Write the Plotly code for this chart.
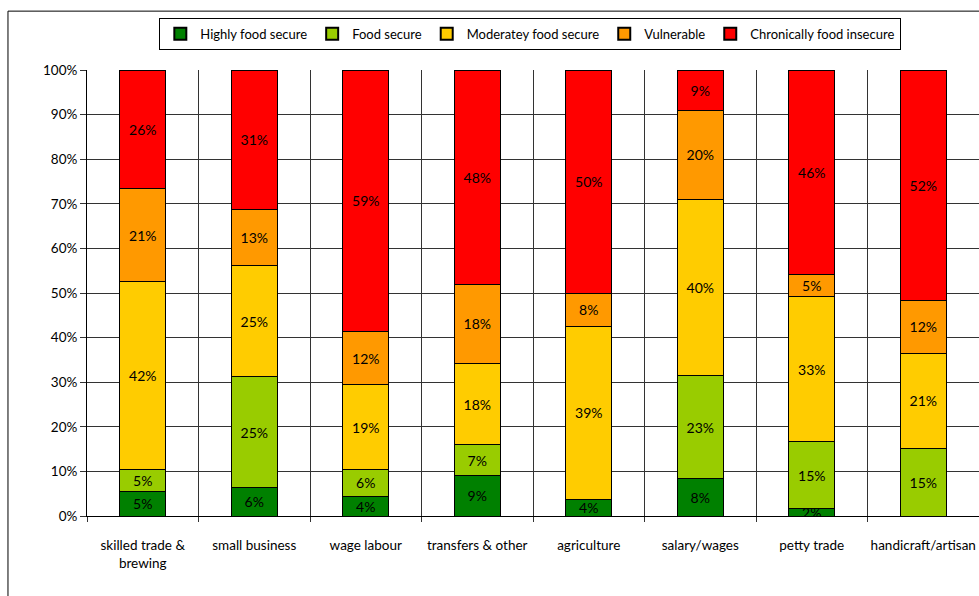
import plotly.graph_objects as go

# Livelihood groups (x-axis categories)
categories = [
    "skilled trade &<br>brewing",
    "small business",
    "wage labour",
    "transfers & other",
    "agriculture",
    "salary/wages",
    "petty trade",
    "handicraft/artisan",
]

# Share of households (%) in each food-security class per livelihood group
highly_food_secure = [5.4, 6.3, 4.4, 9.0, 3.8, 8.3, 1.6, 0.0]
food_secure = [5.1, 24.9, 6.1, 7.1, 0.0, 23.1, 15.0, 15.2]
moderately_food_secure = [42.0, 24.9, 18.9, 18.0, 38.6, 39.6, 32.6, 21.3]
vulnerable = [21.0, 12.6, 11.9, 17.9, 7.6, 19.9, 4.9, 11.9]
chronically_insecure = [26.5, 31.3, 58.7, 48.0, 50.0, 9.1, 45.9, 51.6]

series_names = [
    "Highly food secure",
    "Food secure",
    "Moderatey food secure",
    "Vulnerable",
    "Chronically food insecure",
]
series_values = [
    highly_food_secure,
    food_secure,
    moderately_food_secure,
    vulnerable,
    chronically_insecure,
]
series_colors = ["#008000", "#99CC00", "#FFCC00", "#FF9900", "#FF0000"]

y_ticks = list(range(0, 101, 10))
y_tick_labels = [f"{v}%" for v in y_ticks]

FONT = "Lato, 'Open Sans', sans-serif"

fig = go.Figure()
for name, vals, color in zip(series_names, series_values, series_colors):
    fig.add_trace(
        go.Bar(
            name=name,
            x=categories,
            y=vals,
            marker=dict(color=color, line=dict(color="#000000", width=1)),
            text=[f"{v:.0f}%" if v > 0 else "" for v in vals],
            textposition="inside",
            insidetextanchor="middle",
            textfont=dict(color="#000000", size=14, family=FONT),
            hoverinfo="skip",
        )
    )

# Outer chart frame (left and top edges)
fig.add_shape(
    type="rect", xref="paper", yref="paper",
    x0=-0.0886, x1=1.2, y0=-0.4, y1=1.132,
    line=dict(color="#000000", width=1), fillcolor="rgba(0,0,0,0)",
    layer="below",
)

fig.update_layout(
    width=979,
    height=596,
    margin=dict(l=87, r=0, t=70, b=80, autoexpand=False),
    barmode="stack",
    bargap=0.59,
    plot_bgcolor="#FFFFFF",
    paper_bgcolor="#FFFFFF",
    font=dict(family=FONT, size=13, color="#000000"),
    uniformtext=dict(minsize=14, mode="show"),
    showlegend=True,
    legend=dict(
        orientation="h",
        x=0.497,
        xanchor="center",
        y=1.117,
        yanchor="top",
        bordercolor="#000000",
        borderwidth=1,
        bgcolor="#FFFFFF",
        font=dict(size=13, family=FONT),
        traceorder="normal",
        itemsizing="constant",
    ),
    xaxis=dict(
        tickson="boundaries",
        tickangle=0,
        automargin=False,
        showgrid=True,
        gridcolor="#333333",
        gridwidth=1,
        ticks="outside",
        ticklen=5,
        tickcolor="#333333",
        showline=True,
        linecolor="#000000",
        linewidth=1,
        ticklabelstandoff=17,
        tickfont=dict(size=13.5, family=FONT),
    ),
    yaxis=dict(
        range=[0, 100],
        automargin=False,
        tickmode="array",
        tickvals=y_ticks,
        ticktext=y_tick_labels,
        showgrid=True,
        gridcolor="#333333",
        gridwidth=1,
        ticks="outside",
        ticklen=6,
        tickcolor="#333333",
        showline=True,
        linecolor="#000000",
        linewidth=1,
        zeroline=False,
        tickfont=dict(size=13.5, family=FONT),
    ),
)

fig.write_html("out.html")
